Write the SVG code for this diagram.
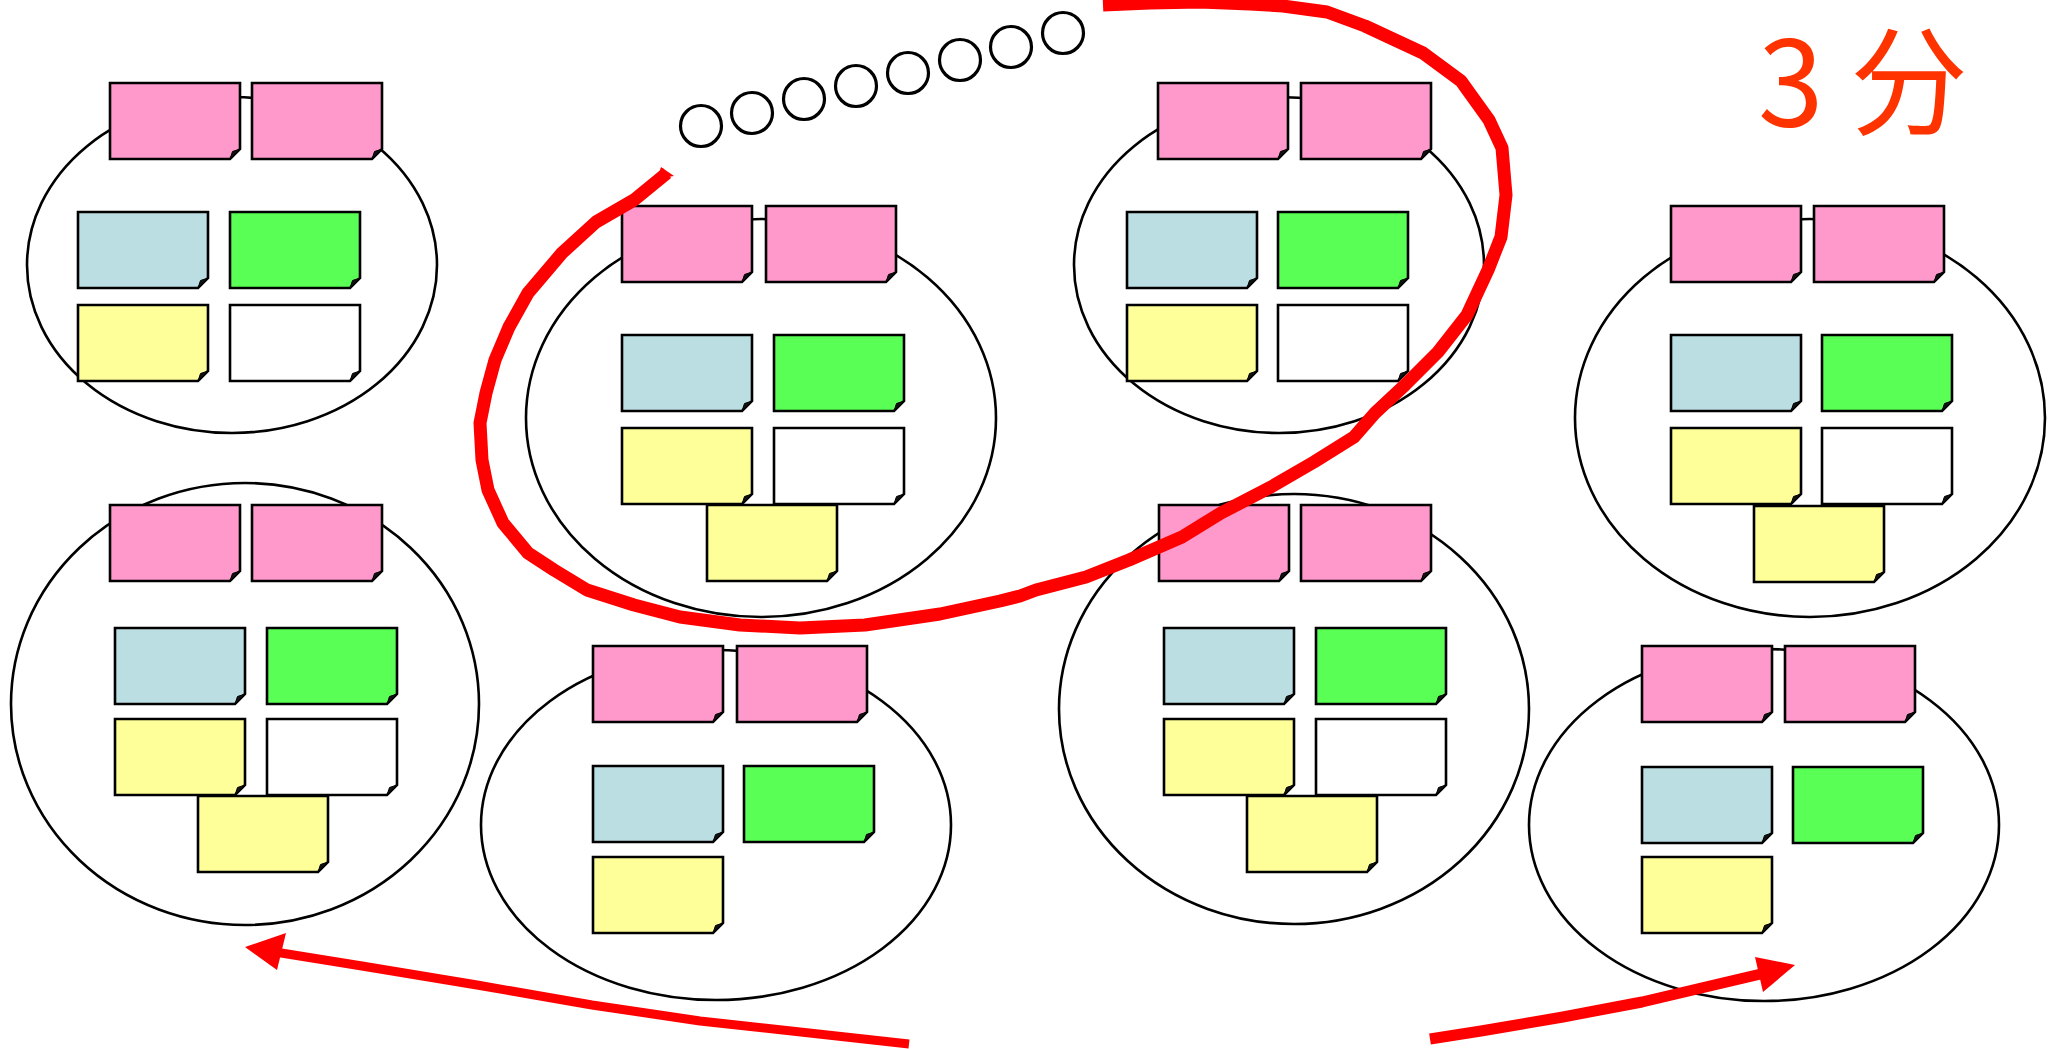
<svg xmlns="http://www.w3.org/2000/svg" xmlns:xlink="http://www.w3.org/1999/xlink" width="2055" height="1049" viewBox="0 0 2055 1049">
  <style>
    .ring{fill:none;stroke:#000;stroke-width:2.6}
    .note path.body{stroke:#000;stroke-width:2.6;stroke-linejoin:miter}
    .pk{fill:#FF99CC}
    .bl{fill:#BBDEE3}
    .gr{fill:#5AFF55}
    .ye{fill:#FFFF99}
    .wh{fill:#FFFFFF}
    .fold{fill:#111;stroke:#000;stroke-width:1}
    .dot{fill:none;stroke:#000;stroke-width:3.2}
    .red{fill:none;stroke:#FF0000;stroke-linejoin:round;stroke-linecap:butt}
    .redfill{fill:#FF0000}
    .label{font-family:'Noto Sans CJK SC','Noto Sans',sans-serif;font-size:118px;fill:#FF3300}
  </style>
  <defs>
    <!-- sticky note with a turned-up bottom-right corner -->
    <g id="nt" class="note">
      <path class="body" d="M0,0H130V66L120,76H0Z"/>
      <path class="fold" d="M120,76L122.5,68.5L130,66Z"/>
    </g>
  </defs>

  <rect width="2055" height="1049" fill="#fff"/>

  <!-- cluster A -->
  <g id="groupA">
    <ellipse class="ring" cx="232" cy="265" rx="205" ry="168"/>
    <use href="#nt" class="pk" x="110" y="83"/>
    <use href="#nt" class="pk" x="252" y="83"/>
    <use href="#nt" class="bl" x="78" y="212"/>
    <use href="#nt" class="gr" x="230" y="212"/>
    <use href="#nt" class="ye" x="78" y="305"/>
    <use href="#nt" class="wh" x="230" y="305"/>
  </g>

  <!-- cluster B -->
  <g id="groupB">
    <ellipse class="ring" cx="761" cy="418" rx="235" ry="199"/>
    <use href="#nt" class="pk" x="622" y="206"/>
    <use href="#nt" class="pk" x="766" y="206"/>
    <use href="#nt" class="bl" x="622" y="335"/>
    <use href="#nt" class="gr" x="774" y="335"/>
    <use href="#nt" class="ye" x="622" y="428"/>
    <use href="#nt" class="wh" x="774" y="428"/>
    <use href="#nt" class="ye" x="707" y="505"/>
  </g>

  <!-- cluster C -->
  <g id="groupC">
    <ellipse class="ring" cx="1279" cy="265" rx="205" ry="168"/>
    <use href="#nt" class="pk" x="1158" y="83"/>
    <use href="#nt" class="pk" x="1301" y="83"/>
    <use href="#nt" class="bl" x="1127" y="212"/>
    <use href="#nt" class="gr" x="1278" y="212"/>
    <use href="#nt" class="ye" x="1127" y="305"/>
    <use href="#nt" class="wh" x="1278" y="305"/>
  </g>

  <!-- cluster D -->
  <g id="groupD">
    <ellipse class="ring" cx="1810" cy="418" rx="235" ry="199"/>
    <use href="#nt" class="pk" x="1671" y="206"/>
    <use href="#nt" class="pk" x="1814" y="206"/>
    <use href="#nt" class="bl" x="1671" y="335"/>
    <use href="#nt" class="gr" x="1822" y="335"/>
    <use href="#nt" class="ye" x="1671" y="428"/>
    <use href="#nt" class="wh" x="1822" y="428"/>
    <use href="#nt" class="ye" x="1754" y="506"/>
  </g>

  <!-- cluster E -->
  <g id="groupE">
    <ellipse class="ring" cx="245" cy="704" rx="234" ry="221"/>
    <use href="#nt" class="pk" x="110" y="505"/>
    <use href="#nt" class="pk" x="252" y="505"/>
    <use href="#nt" class="bl" x="115" y="628"/>
    <use href="#nt" class="gr" x="267" y="628"/>
    <use href="#nt" class="ye" x="115" y="719"/>
    <use href="#nt" class="wh" x="267" y="719"/>
    <use href="#nt" class="ye" x="198" y="796"/>
  </g>

  <!-- cluster F -->
  <g id="groupF">
    <ellipse class="ring" cx="716" cy="825" rx="235" ry="175"/>
    <use href="#nt" class="pk" x="593" y="646"/>
    <use href="#nt" class="pk" x="737" y="646"/>
    <use href="#nt" class="bl" x="593" y="766"/>
    <use href="#nt" class="gr" x="744" y="766"/>
    <use href="#nt" class="ye" x="593" y="857"/>
  </g>

  <!-- cluster G -->
  <g id="groupG">
    <ellipse class="ring" cx="1294" cy="709" rx="235" ry="215"/>
    <use href="#nt" class="pk" x="1159" y="505"/>
    <use href="#nt" class="pk" x="1301" y="505"/>
    <use href="#nt" class="bl" x="1164" y="628"/>
    <use href="#nt" class="gr" x="1316" y="628"/>
    <use href="#nt" class="ye" x="1164" y="719"/>
    <use href="#nt" class="wh" x="1316" y="719"/>
    <use href="#nt" class="ye" x="1247" y="796"/>
  </g>

  <!-- cluster H -->
  <g id="groupH">
    <ellipse class="ring" cx="1764" cy="825" rx="235" ry="176"/>
    <use href="#nt" class="pk" x="1642" y="646"/>
    <use href="#nt" class="pk" x="1785" y="646"/>
    <use href="#nt" class="bl" x="1642" y="767"/>
    <use href="#nt" class="gr" x="1793" y="767"/>
    <use href="#nt" class="ye" x="1642" y="857"/>
  </g>

  <!-- chain of small rings (ellipsis) -->
  <g id="dots">
    <circle class="dot" cx="701" cy="126" r="20.5"/>
    <circle class="dot" cx="752" cy="113" r="20.5"/>
    <circle class="dot" cx="804" cy="99" r="20.5"/>
    <circle class="dot" cx="856" cy="86" r="20.5"/>
    <circle class="dot" cx="908" cy="73" r="20.5"/>
    <circle class="dot" cx="960" cy="60" r="20.5"/>
    <circle class="dot" cx="1011" cy="47" r="20.5"/>
    <circle class="dot" cx="1063" cy="33" r="20.5"/>
  </g>

  <!-- red flow strokes -->
  <g id="connectors">
    <polyline class="red" stroke-width="13" points="1103,5 1150,3 1200,2 1250,4 1283,6 1327,12 1365,26 1423,53 1461,81 1489,120 1502,148 1506,195 1501,237 1488,270 1467,315 1438,352 1405,385 1375,413 1354,437 1314,462 1271,487 1221,513 1182,537 1129,560 1086,577 1036,590 1020,596 1000,601 940,614 865,625 800,628 740,625 680,617 634,605 587,590 554,570 528,553 503,523 488,490 482,460 480,423 486,393 495,360 509,327 528,293 562,253 596,222 634,200 667,173"/>
    <polygon class="redfill" points="657,179 661,167 674,176"/>

    <polyline class="red" stroke-width="9" points="909,1044 700,1021 592,1005 477,985 362,966 275,952"/>
    <polygon class="redfill" points="245,947 286,933 277,970"/>

    <polyline class="red" stroke-width="11" points="1430,1039 1481,1031 1563,1017 1642,1002 1765,973"/>
    <polygon class="redfill" points="1795,965 1755,957 1763,992"/>
  </g>

  <text class="label" x="1758" y="126">3 分</text>
</svg>
